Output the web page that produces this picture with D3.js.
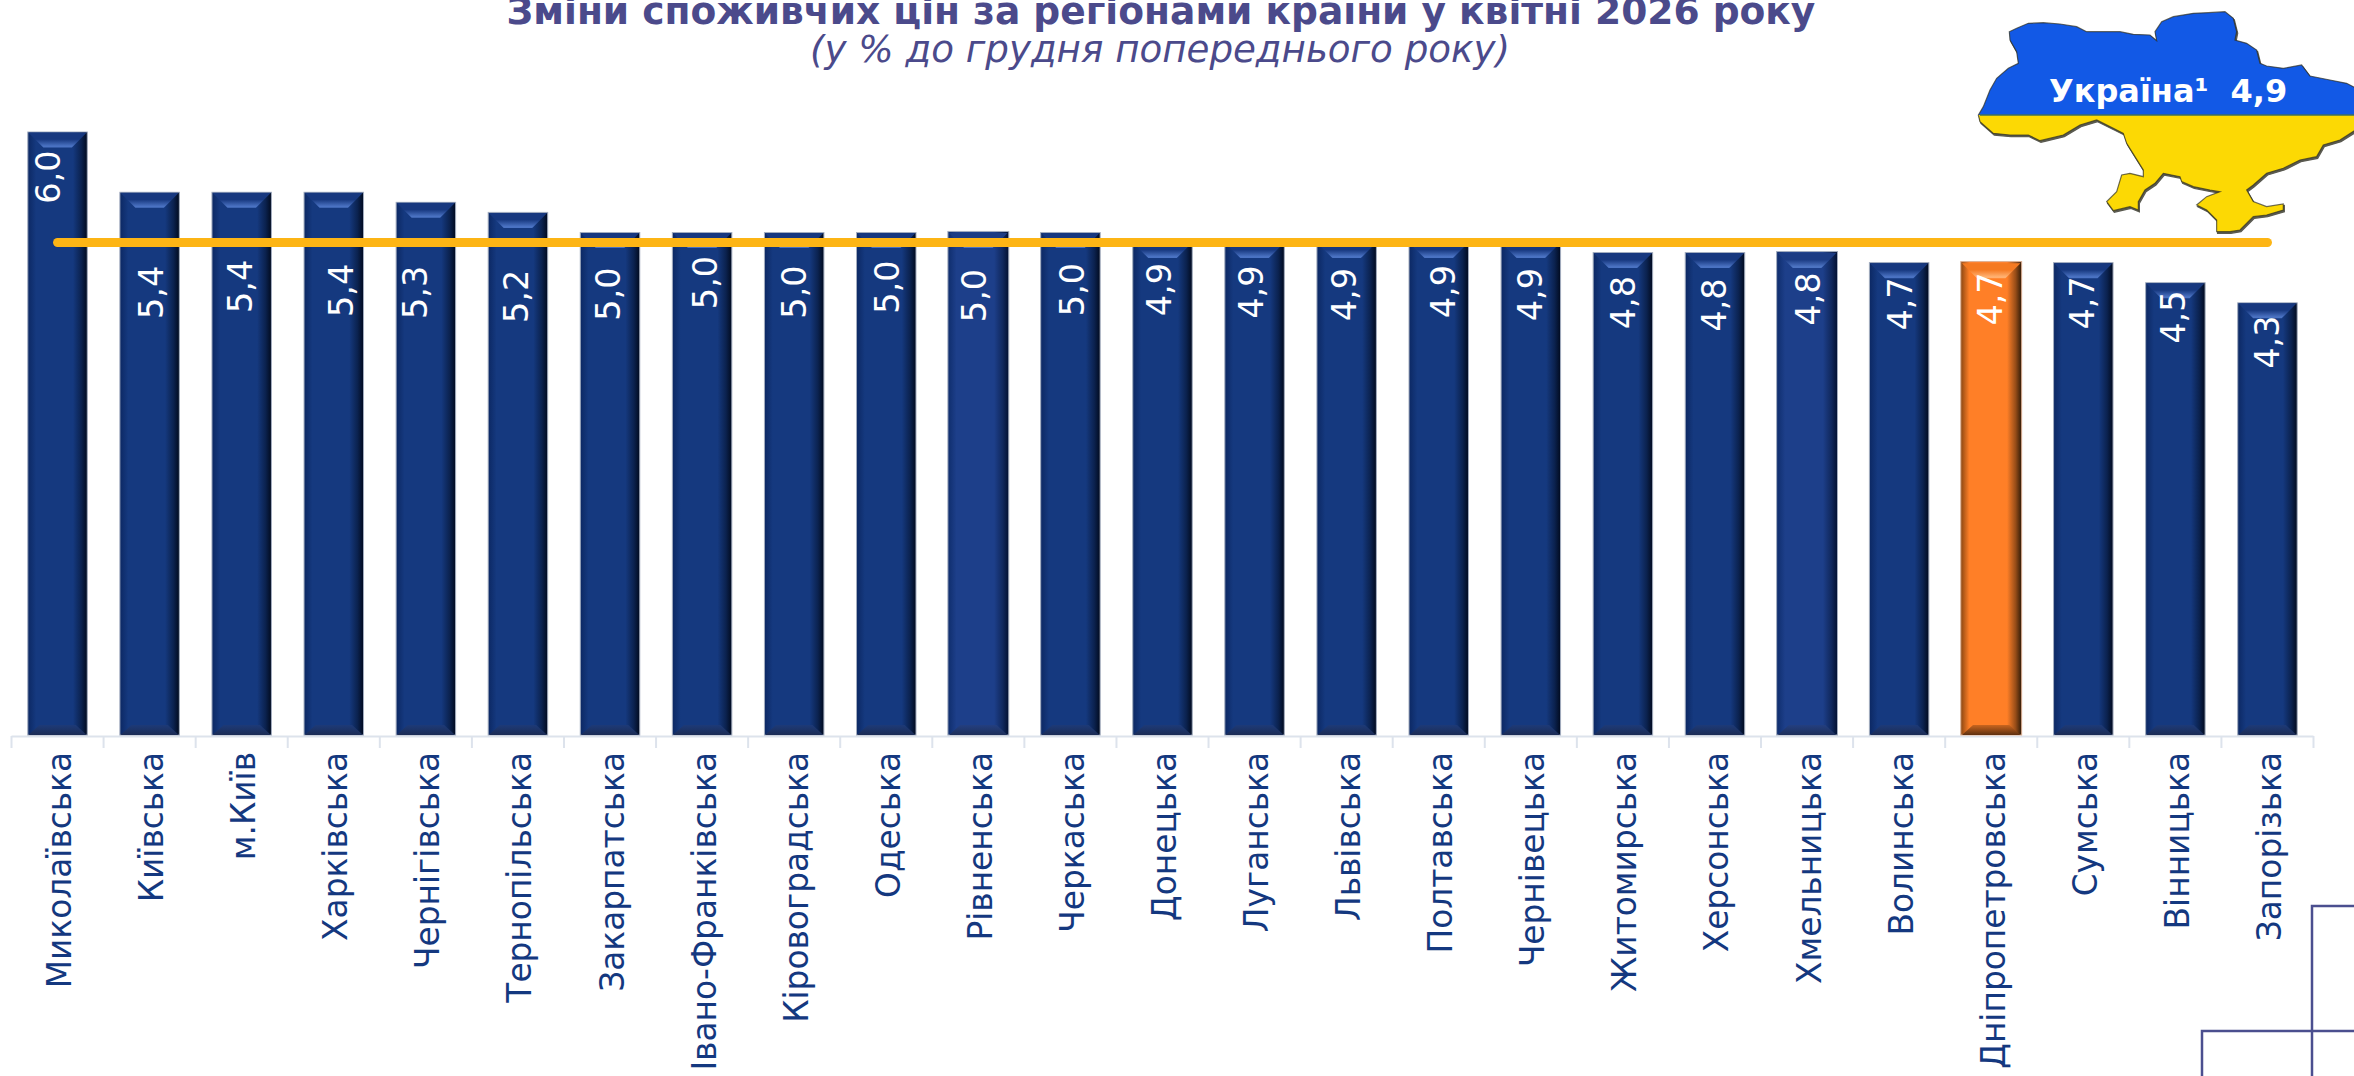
<!DOCTYPE html>
<html lang="uk">
<head>
<meta charset="utf-8">
<script src="https://cdnjs.cloudflare.com/ajax/libs/d3/7.9.0/d3.min.js"></script>
<style>
html,body{margin:0;padding:0;background:#fff;overflow:hidden}
svg{display:block}
text{font-family:"DejaVu Sans",Verdana,sans-serif}
</style>
</head>
<body>
<svg id="chart" width="2354" height="1076" viewBox="0 0 2354 1076"></svg>
<script>
// ---------- data ----------
const categories = ["Миколаївська","Київська","м.Київ","Харківська","Чернігівська","Тернопільська","Закарпатська","Івано-Франківська","Кіровоградська","Одеська","Рівненська","Черкаська","Донецька","Луганська","Львівська","Полтавська","Чернівецька","Житомирська","Херсонська","Хмельницька","Волинська","Дніпропетровська","Сумська","Вінницька","Запорізька"];
const regionValues = [6.0,5.4,5.4,5.4,5.3,5.2,5.0,5.0,5.0,5.0,5.0,5.0,4.9,4.9,4.9,4.9,4.9,4.8,4.8,4.8,4.7,4.7,4.7,4.5,4.3];
const ukraineValue = 4.9;
const highlighted = ["Дніпропетровська"];
const lighter = ["Рівненська","Хмельницька"];
const titleText = "Зміни споживчих цін за регіонами країни у квітні 2026 року";
const subtitleText = "(у % до грудня попереднього року)";

// ---------- layout (hand-placed label nudges, as in the source chart) ----------
const labelDx = [-10,1,-2,7,-11,-2,-2,3,0,1,-5,1,-3.5,-4,-2.5,4,-1.5,0,-1,1,1,-1,-1.5,-2.5,-1];
const labelDy = [45,100,94,98,90,84,61.5,50,59.5,54.5,63,57,47,49.5,52,49,52,50,52.4,46.4,41.3,36.3,40.3,34.3,39.2];
const W = 2354, H = 1076;
const svg = d3.select("#chart");
const x = d3.scaleBand().domain(categories).range([11.5, 2313.5]).paddingInner(0.354).paddingOuter(0.177);
const y = d3.scaleLinear().domain([0, 6]).range([735, 132]);
const fmt = v => v.toFixed(1).replace(".", ",");

// ---------- gradients ----------
const defs = svg.append("defs");
const palettes = {
  navy:  {edgeL:"#0c2863",base:"#15397f",edgeR:"#010a1e",topA:"#17387f",topB:"#4a72c2",botA:"#1d3a78",botB:"#1c2c55",stroke:"#a3adbf"},
  light: {edgeL:"#0f2d6c",base:"#1d3f8a",edgeR:"#021030",topA:"#1c3c84",topB:"#4d74c2",botA:"#233f80",botB:"#1e2f5a",stroke:"#a3adbf"},
  orange:{edgeL:"#8a4612",base:"#ff7f27",edgeR:"#2e1a08",topA:"#f57a22",topB:"#ffb070",botA:"#c9651f",botB:"#5e3010",stroke:"#dcb094"}
};
Object.entries(palettes).forEach(([k,p])=>{
  const h = defs.append("linearGradient").attr("id","h-"+k);
  [[0,p.edgeL],[.14,p.base],[.76,p.base],[.9,d3.interpolateRgb(p.base,p.edgeR)(.5)],[1,p.edgeR]].forEach(s=>h.append("stop").attr("offset",s[0]).attr("stop-color",s[1]));
  const t = defs.append("linearGradient").attr("id","t-"+k).attr("x2",0).attr("y2",1);
  [[0,p.topA],[.45,p.topA],[.9,p.topB],[1,p.topB]].forEach(s=>t.append("stop").attr("offset",s[0]).attr("stop-color",s[1]));
  const b = defs.append("linearGradient").attr("id","b-"+k).attr("x2",0).attr("y2",1);
  [[0,p.botA],[1,p.botB]].forEach(s=>b.append("stop").attr("offset",s[0]).attr("stop-color",s[1]));
});
const kindOf = c => highlighted.includes(c) ? "orange" : lighter.includes(c) ? "light" : "navy";

// ---------- title ----------
svg.append("text").attr("x",1161).attr("y",24).attr("text-anchor","middle")
  .attr("font-size",37.6).attr("font-weight",700).attr("fill","#4b4a8b").text(titleText);
svg.append("text").attr("x",1160).attr("y",62).attr("text-anchor","middle")
  .attr("font-size",37.2).attr("font-style","italic").attr("fill","#4b4a8b").text(subtitleText);

// ---------- axis ----------
const axisG = svg.append("g").attr("transform","translate(0,736)")
  .call(d3.axisBottom(x).tickSize(0).tickPadding(0));
axisG.select(".domain").remove();
axisG.selectAll("text")
  .attr("font-family","'DejaVu Sans',Verdana,sans-serif")
  .attr("font-size",32.8).attr("fill","#14387f")
  .attr("text-anchor","end").attr("dy",null).attr("y",0)
  .attr("transform","translate(13.5,16) rotate(-90)");
const axisLine = "#dde3ec";
svg.append("line").attr("x1",x.range()[0]).attr("x2",x.range()[1]).attr("y1",736.5).attr("y2",736.5)
  .attr("stroke",axisLine).attr("stroke-width",2);
svg.append("g").selectAll("line").data(d3.range(categories.length+1)).join("line")
  .attr("x1",i=>x.range()[0]+i*x.step()).attr("x2",i=>x.range()[0]+i*x.step())
  .attr("y1",736).attr("y2",748).attr("stroke",axisLine).attr("stroke-width",2);

// ---------- bars ----------
const rows = categories.map((c,i)=>({c,v:regionValues[i],i}));
const bars = svg.append("g").selectAll("g").data(rows).join("g");
const grow = d => kindOf(d.c)==="navy" ? 0 : 0.7;
bars.append("rect")
  .attr("x",d=>x(d.c)-grow(d)).attr("y",d=>y(d.v)-grow(d)*1.5)
  .attr("width",d=>x.bandwidth()+2*grow(d)).attr("height",d=>y(0)-y(d.v)+grow(d)*1.5)
  .attr("fill",d=>`url(#h-${kindOf(d.c)})`)
  .attr("stroke",d=>palettes[kindOf(d.c)].stroke).attr("stroke-width",1);
const topH = 15, topIn = 15, botH = 10, botIn = 11;
bars.append("path").attr("d",d=>{
  const l=x(d.c)+.5,r=x(d.c)+x.bandwidth()-.5,t=y(d.v)+.5;
  return `M${l},${t}L${r},${t}L${r-topIn},${t+topH}L${l+topIn},${t+topH}Z`;
}).attr("fill",d=>`url(#t-${kindOf(d.c)})`);
bars.append("path").attr("d",d=>{
  const l=x(d.c)+.5,r=x(d.c)+x.bandwidth()-.5,b=y(0);
  return `M${l},${b}L${r},${b}L${r-botIn},${b-botH}L${l+botIn},${b-botH}Z`;
}).attr("fill",d=>`url(#b-${kindOf(d.c)})`);

// ---------- Ukraine line ----------
svg.append("path").datum(categories)
  .attr("d",d3.line().x(c=>x(c)+x.bandwidth()/2).y(()=>y(ukraineValue)))
  .attr("fill","none").attr("stroke","#fdb515").attr("stroke-width",9).attr("stroke-linecap","round");

// ---------- value labels ----------
svg.append("g").selectAll("text").data(rows).join("text")
  .attr("transform",d=>`translate(${x(d.c)+x.bandwidth()/2+labelDx[d.i]},${y(d.v)+labelDy[d.i]}) rotate(-90)`)
  .attr("text-anchor","middle").attr("dy",".365em")
  .attr("font-size",33.5).attr("fill","#fff").text(d=>fmt(d.v));

// ---------- decorative map of Ukraine (outline) ----------
const mapOutline = [[328,95],[350,85],[385,70],[430,68],[480,72],[530,80],[560,95],[610,95],[660,95],[700,103],[750,105],[770,122],[765,95],[785,65],[820,50],[880,40],[925,38],[975,35],[1000,55],[1010,95],[1005,120],[1040,130],[1070,150],[1080,190],[1100,198],[1150,205],[1205,195],[1230,228],[1290,240],[1340,250],[1375,268],[1375,385],[1320,420],[1270,435],[1250,470],[1200,480],[1150,505],[1100,520],[1060,555],[1040,570],[1060,605],[1100,620],[1150,612],[1150,630],[1100,645],[1060,650],[1020,690],[990,695],[950,695],[950,660],[920,630],[890,615],[920,590],[960,575],[930,570],[880,560],[845,545],[840,530],[790,520],[765,550],[735,570],[715,605],[715,630],[690,620],[640,632],[620,605],[650,575],[665,525],[690,520],[730,530],[730,510],[705,470],[680,430],[670,400],[640,385],[590,360],[540,375],[490,405],[420,422],[385,405],[330,405],[280,400],[240,365],[235,345],[250,320],[270,270],[290,235],[325,205],[355,190],[350,155],[330,120]];
const mapG = svg.append("g").attr("transform","translate(1900,0) scale(0.3333)");
const mapPath = d3.line().curve(d3.curveLinearClosed);
defs.append("clipPath").attr("id","mapTop").append("rect").attr("x",0).attr("y",0).attr("width",1400).attr("height",345);
defs.append("clipPath").attr("id","mapBot").append("rect").attr("x",0).attr("y",345).attr("width",1400).attr("height",500);
mapG.append("path").attr("d",mapPath(mapOutline)).attr("transform","translate(3,5)").attr("fill","#5a5a50").attr("stroke","#5a5a50").attr("stroke-width",4);
mapG.append("path").attr("d",mapPath(mapOutline)).attr("clip-path","url(#mapTop)").attr("fill","#1259e6");
mapG.append("path").attr("d",mapPath(mapOutline)).attr("clip-path","url(#mapBot)").attr("fill","#fcd904");
mapG.append("line").attr("x1",240).attr("x2",1375).attr("y1",345).attr("y2",345).attr("stroke","#3d6f60").attr("stroke-width",4);
mapG.append("path").attr("d",mapPath(mapOutline)).attr("fill","none").attr("stroke","#2f2f20").attr("stroke-width",3.5).attr("stroke-opacity",.7);
const mapT = svg.append("text").attr("x",2049).attr("y",102).attr("font-size",32).attr("font-weight",700).attr("fill","#fff").attr("xml:space","preserve");
mapT.append("tspan").text("Україна¹");
mapT.append("tspan").attr("dx",22).text(fmt(ukraineValue));

// ---------- corner frame ----------
const frame = "#4b4f8f";
[[[2312,1078],[2312,906],[2356,906]],[[2202,1078],[2202,1031],[2356,1031]]].forEach(p=>{
  svg.append("path").attr("d",d3.line()(p))
    .attr("fill","none").attr("stroke",frame).attr("stroke-width",2.5);
});
</script>
</body>
</html>
